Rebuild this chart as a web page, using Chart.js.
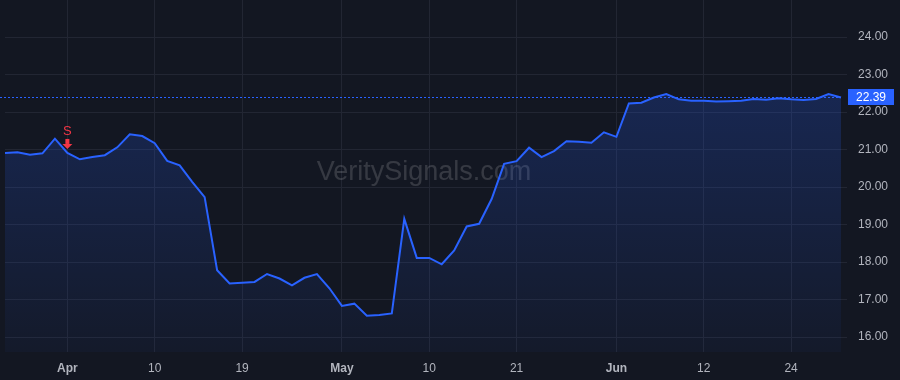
<!DOCTYPE html>
<html>
<head>
<meta charset="utf-8">
<script src="https://cdn.jsdelivr.net/npm/chart.js@4.4.1/dist/chart.umd.min.js"></script>
<style>
  html, body { margin: 0; padding: 0; background: #131722; }
  #wrap { width: 900px; height: 380px; position: relative; }
</style>
</head>
<body>
<div id="wrap"><canvas id="c"></canvas></div>
<script>
// ── data ────────────────────────────────────────────────
const dates = [
  "2024-03-22", "2024-03-25", "2024-03-26", "2024-03-27", "2024-03-28",
  "2024-04-01", "2024-04-02", "2024-04-03", "2024-04-04", "2024-04-05",
  "2024-04-08", "2024-04-09", "2024-04-10", "2024-04-11", "2024-04-12",
  "2024-04-15", "2024-04-16", "2024-04-17", "2024-04-18", "2024-04-19",
  "2024-04-22", "2024-04-23", "2024-04-24", "2024-04-25", "2024-04-26",
  "2024-04-29", "2024-04-30",
  "2024-05-01", "2024-05-02", "2024-05-03", "2024-05-06", "2024-05-07",
  "2024-05-08", "2024-05-09", "2024-05-10", "2024-05-13", "2024-05-14",
  "2024-05-15", "2024-05-16", "2024-05-17", "2024-05-20", "2024-05-21",
  "2024-05-22", "2024-05-23", "2024-05-24", "2024-05-28", "2024-05-29",
  "2024-05-30", "2024-05-31",
  "2024-06-03", "2024-06-04", "2024-06-05", "2024-06-06", "2024-06-07",
  "2024-06-10", "2024-06-11", "2024-06-12", "2024-06-13", "2024-06-14",
  "2024-06-17", "2024-06-18", "2024-06-20", "2024-06-21", "2024-06-24",
  "2024-06-25", "2024-06-26", "2024-06-27", "2024-06-28",
];

const closes = [
  20.91, 20.93, 20.86, 20.90, 21.29,
  20.91, 20.74, 20.80, 20.85, 21.06,
  21.41, 21.36, 21.17, 20.70, 20.58,
  20.14, 19.73, 17.78, 17.43, 17.45,
  17.47, 17.68, 17.56, 17.38, 17.58,
  17.68, 17.30,
  16.83, 16.89, 16.57, 16.59, 16.63,
  19.15, 18.11, 18.11, 17.94, 18.31,
  18.95, 19.02, 19.68, 20.62, 20.69,
  21.05, 20.80, 20.96, 21.22, 21.21,
  21.18, 21.46,
  21.34, 22.23, 22.25, 22.39, 22.48,
  22.34, 22.30, 22.30, 22.28, 22.29,
  22.30, 22.35, 22.33, 22.37, 22.34,
  22.32, 22.35, 22.48, 22.39,
];

// x axis labels (only these dates get a label + grid line)
const tickDates = ["2024-04-01", "2024-04-10", "2024-04-19", "2024-05-01", "2024-05-10",
                   "2024-05-21", "2024-06-03", "2024-06-12", "2024-06-24"];
const tickTexts = ["Apr", "10", "19", "May", "10", "21", "Jun", "12", "24"];
const monthTicks = ["Apr", "May", "Jun"];

const yTicks = [16, 17, 18, 19, 20, 21, 22, 23, 24];
const yMin = 15.6;
const yMax = 24.99;

// signals
const signalDates = ["2024-04-01"];
const signalTexts = ["S"];

const lastPrice = closes[closes.length - 1];

// ── colours ─────────────────────────────────────────────
const BG = "#131722";
const LINE = "#2962ff";
const GRID = "#222633";
const TEXT = "#b2b5be";
const RED = "#f23645";
const FONT = "'Liberation Sans', Arial, sans-serif";

// ── plugins ─────────────────────────────────────────────
const bgPlugin = {
  id: "bg",
  beforeDraw(chart) {
    const { ctx, width, height } = chart;
    ctx.save();
    ctx.fillStyle = BG;
    ctx.fillRect(0, 0, width, height);
    ctx.restore();
  },
};

const watermark = {
  id: "watermark",
  beforeDatasetsDraw(chart) {
    const { ctx } = chart;
    ctx.save();
    ctx.fillStyle = "rgba(255,255,255,0.15)";
    ctx.font = `27px ${FONT}`;
    ctx.textAlign = "center";
    ctx.textBaseline = "middle";
    ctx.fillText("VeritySignals.com", 424, 173);
    ctx.restore();
  },
};

const overlay = {
  id: "overlay",
  afterDatasetsDraw(chart) {
    const { ctx, chartArea, scales: { x, y } } = chart;
    ctx.save();

    // last price dotted line
    const py = Math.round(y.getPixelForValue(lastPrice)) + 0.5;
    ctx.strokeStyle = LINE;
    ctx.lineWidth = 1;
    ctx.setLineDash([2, 2]);
    ctx.beginPath();
    ctx.moveTo(0, py);
    ctx.lineTo(chartArea.right, py);
    ctx.stroke();
    ctx.setLineDash([]);

    // signal markers
    signalDates.forEach((d, k) => {
      const i = dates.indexOf(d);
      const sx = x.getPixelForValue(i);
      const sy = y.getPixelForValue(closes[i]);
      ctx.fillStyle = RED;
      ctx.font = `13px ${FONT}`;
      ctx.textAlign = "center";
      ctx.textBaseline = "middle";
      ctx.fillText(signalTexts[k], sx, sy - 22);
      // down arrow
      const tip = sy - 4;
      ctx.fillRect(sx - 2, tip - 10, 4, 5);
      ctx.beginPath();
      ctx.moveTo(sx - 5, tip - 5);
      ctx.lineTo(sx + 5, tip - 5);
      ctx.lineTo(sx, tip);
      ctx.closePath();
      ctx.fill();
    });
    ctx.restore();
  },
  afterDraw(chart) {
    const { ctx, chartArea, scales: { y } } = chart;
    const py = y.getPixelForValue(lastPrice);
    ctx.save();
    ctx.fillStyle = LINE;
    ctx.fillRect(chartArea.right + 7, Math.round(py) - 8, 46, 16);
    ctx.fillStyle = "#ffffff";
    ctx.font = `12px ${FONT}`;
    ctx.textAlign = "center";
    ctx.textBaseline = "middle";
    ctx.fillText(lastPrice.toFixed(2), chartArea.right + 30, Math.round(py) + 0.5);
    ctx.restore();
  },
};

// ── chart ───────────────────────────────────────────────
new Chart(document.getElementById("c"), {
  type: "line",
  data: {
    labels: dates,
    datasets: [{
      data: closes,
      borderColor: LINE,
      borderWidth: 2,
      pointRadius: 0,
      tension: 0,
      fill: "start",
      backgroundColor(ctx) {
        const area = ctx.chart.chartArea;
        if (!area) return "rgba(41,98,255,0.2)";
        const g = ctx.chart.ctx.createLinearGradient(0, area.top, 0, area.bottom);
        g.addColorStop(0, "rgba(41,98,255,0.28)");
        g.addColorStop(1, "rgba(41,98,255,0.04)");
        return g;
      },
    }],
  },
  options: {
    responsive: true,
    maintainAspectRatio: false,
    animation: false,
    layout: { padding: { left: 5, top: 0, right: 0, bottom: 0 } },
    plugins: {
      legend: { display: false },
      tooltip: { enabled: false },
    },
    scales: {
      x: {
        type: "category",
        offset: false,
        border: { display: false },
        grid: { color: GRID, drawTicks: false },
        ticks: {
          autoSkip: false,
          maxRotation: 0,
          padding: 9,
          color: TEXT,
          font(ctx) {
            const lbl = ctx.tick && ctx.tick.label;
            return { family: FONT, size: 12, weight: monthTicks.includes(lbl) ? "bold" : "normal" };
          },
          callback(val, i) {
            const k = tickDates.indexOf(dates[i]);
            return k >= 0 ? tickTexts[k] : null;
          },
        },
        afterFit(s) { s.height = 28; s.paddingLeft = 0; s.paddingRight = 0; },
      },
      y: {
        position: "right",
        min: yMin,
        max: yMax,
        border: { display: false },
        grid: { color: GRID, tickLength: 6 },
        ticks: {
          color: TEXT,
          crossAlign: "near",
          padding: 11,
          font: { family: FONT, size: 12 },
          callback: (v) => Number(v).toFixed(2),
        },
        afterBuildTicks(s) { s.ticks = yTicks.map(v => ({ value: v })); },
        afterFit(s) { s.width = 59; s.paddingTop = 0; s.paddingBottom = 0; },
      },
    },
  },
  plugins: [bgPlugin, watermark, overlay],
});
</script>
</body>
</html>
